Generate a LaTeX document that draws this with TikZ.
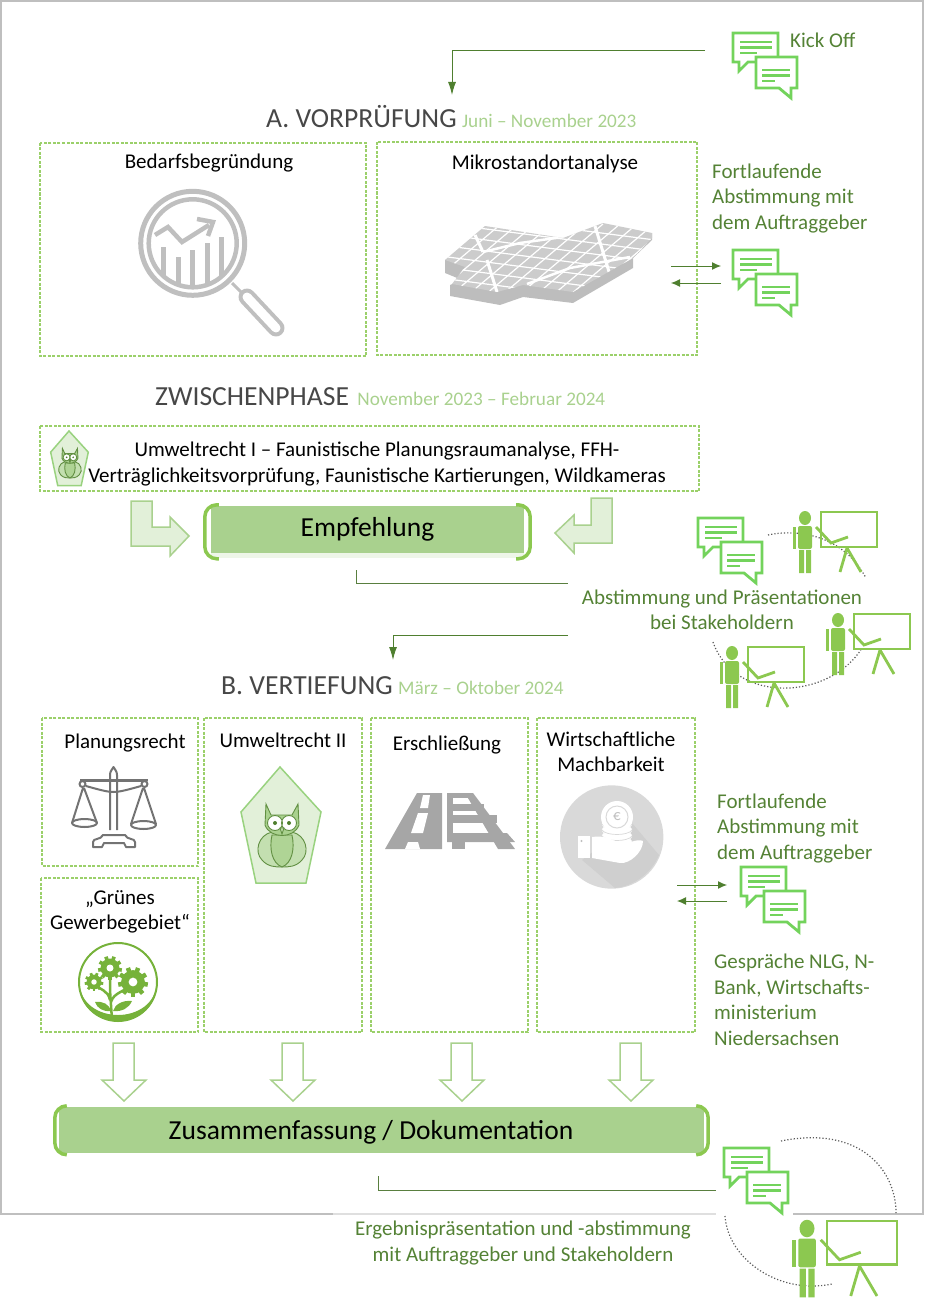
\documentclass[tikz,border=0pt]{standalone}
\usepackage{fontspec}
\setmainfont{Carlito}
\usetikzlibrary{positioning, arrows.meta}

\definecolor{framegray}{HTML}{BFBFBF}
\definecolor{iconlight}{HTML}{73D35C}
\definecolor{personfill}{HTML}{8CC850}
\definecolor{barfill}{HTML}{A9D18E}
\definecolor{paleleaf}{HTML}{E2F0D9}
\definecolor{linkgreen}{HTML}{4F7F2F}
\definecolor{sidegreen}{HTML}{548235}
\definecolor{dashgreen}{HTML}{9BD06A}
\definecolor{icongray}{HTML}{BFBFBF}
\definecolor{flowergreen}{HTML}{76B23A}

\tikzset{
  body/.style={font=\fontsize{21}{25.5}\selectfont, align=center, inner sep=0pt},
  sidetext/.style={font=\fontsize{21}{25.5}\selectfont, align=left, inner sep=0pt, text=sidegreen},
  sidemid/.style={sidetext, align=center},
  heading/.style={font=\fontsize{27.6}{30}\selectfont, text=black!72, inner sep=0pt, anchor=base west},
  datetext/.style={font=\fontsize{19.2}{22}\selectfont, text=barfill, inner sep=0pt, anchor=base west},
  dashbox/.style={draw=dashgreen, line width=1.3pt, dash pattern=on 3pt off 1.5pt},
  greenbar/.style={fill=barfill, inner sep=0pt, font=\fontsize{27.5}{30}\selectfont},
  barend/.style={draw=personfill, line width=3.5pt, rounded corners=12pt},
  link/.style={draw=linkgreen!80!gray, line width=1pt},
  tip/.style={-{Latex[length=13pt,width=8pt]}, draw=linkgreen, line width=1pt},
  bentarrow/.style={draw=barfill, fill=paleleaf, line width=1.5pt},
  dotline/.style={draw=black!65, line width=1.2pt, dotted},
  chat/.pic={
    \begin{scope}[draw=iconlight, line width=2.8pt, fill=white]
      \draw (0,0) -- (45,0) -- (45,29) -- (15,29) -- (6,38) -- (6,29) -- (0,29) -- cycle;
      \draw (7,9) -- (39,9) (7,14.5) -- (39,14.5) (7,20) -- (24,20);
      \filldraw (23,24) -- (64,24) -- (64,55) -- (58,55) -- (58,65) -- (46,55) -- (23,55) -- cycle;
      \draw (29,37) -- (57,37) (29,42.5) -- (57,42.5) (29,48) -- (42,48);
    \end{scope}
  },
  presenter/.pic={
    \draw[personfill, line width=2.8pt] (0,0) rectangle (56,35);
    \draw[personfill, line width=2.8pt] (-5,15) -- (10,31) -- (27,25);
    \draw[personfill, line width=2.8pt] (26,36) -- (19,60) (26,36) -- (40,60);
    \fill[personfill] (-16,6) ellipse (6 and 7);
    \fill[personfill, rounded corners=2pt] (-23,14) rectangle (-9,37);
    \fill[personfill] (-28,15) rectangle (-25,37);
    \fill[personfill] (-22,38) rectangle (-17,61) (-15,38) rectangle (-10,61);
  },
  owl/.pic={
    \draw[barfill!70!iconlight, fill=paleleaf, line width=1.5pt] (0,0) -- (41,45) -- (26,116) -- (-24,116) -- (-39,45) -- cycle;
    \begin{scope}[draw=linkgreen!80!barfill, line width=.9pt]
      \filldraw[fill=barfill!55!paleleaf] (-8,65) .. controls (-22,68) and (-26,85) .. (-18,93) .. controls (-12,100) and (-4,100) .. (2,100) .. controls (8,100) and (16,100) .. (22,93) .. controls (30,85) and (26,68) .. (12,65) -- cycle;
      \filldraw[fill=barfill!90!paleleaf] (-8,68) .. controls (-11,82) and (-8,96) .. (2,100) .. controls (12,96) and (15,82) .. (12,68) -- cycle;
      \filldraw[fill=barfill] (-14,37) -- (-9,48) -- (12,48) -- (18,37) -- (19,58) .. controls (14,72) and (-10,72) .. (-15,58) -- cycle;
      \filldraw[fill=white] (-5,56) circle (7.5) (9,56) circle (7.5);
      \fill[linkgreen] (-5,56) circle (2) (9,56) circle (2);
      \filldraw[fill=barfill!60!paleleaf] (0,61) -- (4,61) -- (2,67) -- cycle;
    \end{scope}
  },
  downarrow/.pic={
    \draw[bentarrow, fill=white] (-11,0) -- (10,0) -- (10,37) -- (22,37) -- (0,58) -- (-22,37) -- (-11,37) -- cycle;
  },
  gear/.pic={
    \foreach \t in {0,40,...,320}
      \fill[rotate=\t] (-1.8,0) rectangle (1.8,12);
    \fill (0,0) circle (9.5);
    \fill[white] (0,0) circle (3.5);
  },
}

\begin{document}
\begin{tikzpicture}[x=1pt, y=-1pt]
\useasboundingbox (0,0) rectangle (924,1300);

% frame
\draw[framegray, line width=2pt] (333,1214) -- (1,1214) -- (1,1) -- (923,1) -- (923,1214) -- (793,1214);
\draw[framegray!50, line width=1.5pt] (333,1214) -- (716,1214);

% titles
\node[heading] (vorpruefung) at (266,128) {A. VORPRÜFUNG};
\node[datetext, right=5pt of vorpruefung.base east, anchor=base west] (vorpruefungdate) {Juni -- November 2023};
\node[heading] (zwischenphase) at (155,405) {ZWISCHENPHASE};
\node[datetext, right=8pt of zwischenphase.base east, anchor=base west] (zwischendate) {November 2023 -- Februar 2024};
\node[heading] (vertiefung) at (221,694) {B. VERTIEFUNG};
\node[datetext, right=5pt of vertiefung.base east, anchor=base west] (vertiefungdate) {März -- Oktober 2024};

% boxes
\draw[dashbox] (40,143) rectangle (366,356);
\draw[dashbox] (377,142) rectangle (697,355);
\draw[dashbox] (40,426) rectangle (699,491);
\draw[dashbox] (42,718) rectangle (198,866);
\draw[dashbox] (41,878) rectangle (198,1032);
\draw[dashbox] (204,718) rectangle (362,1032);
\draw[dashbox] (371,718) rectangle (528,1032);
\draw[dashbox] (537,718) rectangle (695,1032);

\node[body] (bedarf) at (209,163) {Bedarfsbegründung};
\node[body] (mikro) at (545,164) {Mikrostandortanalyse};
\node[body] (umwelt1) at (377,464) {Umweltrecht I -- Faunistische Planungsraumanalyse, FFH-\\Verträglichkeitsvorprüfung, Faunistische Kartierungen, Wildkameras};
\node[body] (planung) at (125,743) {Planungsrecht};
\node[body] (umwelt2) at (283,740) {Umweltrecht II};
\node[body] (erschl) at (447,745) {Erschließung};
\node[body] (wirtschaft) at (611,752) {Wirtschaftliche\\Machbarkeit};
\node[body] (gruenes) at (120,912) {„Grünes\\Gewerbegebiet“};

% magnifier
\begin{scope}[icongray]
  \draw[line width=5pt] (192.7,243.3) circle (52);
  \draw[line width=4.5pt] (192.7,243.3) circle (44);
  \begin{scope}
    \clip (192.7,243.3) circle (44);
    \foreach \bx/\by in {163/247, 178/257, 192/250, 207/243, 221/237}
      \draw[line width=5pt] (\bx,\by) -- (\bx,295);
  \end{scope}
  \draw[line width=4.5pt] (155,235) -- (168,227) -- (182,242) -- (209,225);
  \draw[line width=4.5pt] (197,219) -- (213,222) -- (208,236);
  \draw[line width=3pt] (232,283) -- (243,294);
  \draw[line width=17pt, line cap=round] (247,297) -- (276,328);
  \draw[white, line width=9pt, line cap=round] (247,297) -- (276,328);
\end{scope}

% map
\fill[black!26] (445,260) -- (445,273) -- (462,280) -- (450,285) -- (450,296) -- (500,305) -- (523,297) -- (573,303) -- (633,268) -- (633,258) -- (652,240) -- (652,233) -- cycle;
\begin{scope}
  \clip (445,260) -- (485,226) -- (563,238) -- (603,223) -- (652,233) -- (652,238) -- (633,258) -- (573,292) -- (523,285) -- (497,292) -- (452,284) -- (465,267) -- cycle;
  \fill[black!20] (440,220) rectangle (655,300);
  \foreach \k in {0,...,8}
    \draw[white, line width=1.2pt] (440,212+\k*11) -- (655,240+\k*11);
  \foreach \k in {-2,...,12}
    \draw[white, line width=1.2pt] (445+\k*17,300) -- (535+\k*17,224);
  \draw[white, line width=3pt] (475,235) -- (483,252);
  \draw[white, line width=3pt] (487,260) -- (497,292);
  \draw[white, line width=3pt] (595,226) -- (610,275);
  \draw[white, line width=2.5pt] (483,252) -- (520,243) -- (563,237);
  \draw[white, line width=2.5pt] (527,284) -- (570,268) -- (630,257);
\end{scope}

% arrows into the recommendation
\draw[bentarrow] (131,501) -- (152,501) -- (152,527) -- (170,527) -- (170,517) -- (189,536) -- (170,556) -- (170,546) -- (131,546) -- cycle;
\draw[bentarrow] (612,498) -- (591,498) -- (591,525) -- (574,525) -- (574,515) -- (555,533) -- (574,553) -- (574,543) -- (612,543) -- cycle;

% bars
\fill[paleleaf!60] (211,553) rectangle (524,558);
\node[greenbar, minimum width=313pt, minimum height=47pt] (empfehlung) at (367.5,529.5) {\raisebox{-2pt}{Empfehlung}};
\draw[barend] ([xshift=8pt,yshift=1pt]empfehlung.north west) -- ++(-14,0) -- ++(0,54) -- ++(14,0);
\draw[barend] ([xshift=-8pt,yshift=1pt]empfehlung.north east) -- ++(14,0) -- ++(0,54) -- ++(-14,0);
\node[greenbar, minimum width=645pt, minimum height=46pt] (zusammen) at (381.5,1130) {};
\node[font=\fontsize{27.5}{30}\selectfont, inner sep=0pt] (zusammentext) at (371,1132) {Zusammenfassung / Dokumentation};
\draw[barend] ([xshift=8pt,yshift=1pt]zusammen.north west) -- ++(-12,0) -- ++(0,49) -- ++(12,0);
\draw[barend] ([xshift=-8pt,yshift=1pt]zusammen.north east) -- ++(12,0) -- ++(0,49) -- ++(-12,0);

% owls
\pic at (69,431) [scale=.47] {owl};
\pic at (280,767) {owl};

% scales
\begin{scope}[black!55, line width=2pt, line join=round]
  \draw (110,830) -- (110,775) .. controls (110,771) and (112,770) .. (113.5,767) .. controls (115,770) and (117,771) .. (117,775) -- (117,830);
  \draw (85,781) -- (143,781);
  \draw (80,780) -- (148,780);
  \draw (86,786) .. controls (100,790) and (108,792) .. (113.5,792) .. controls (119,792) and (127,790) .. (141,786);
  \draw[fill=white] (82.5,784) circle (3) (144.5,784) circle (3);
  \draw (83,788) -- (72,823) (84,788) -- (97,823);
  \draw (143,788) -- (131,824) (144,788) -- (156,824);
  \draw (84.5,823) ellipse (12.5 and 4);
  \draw (143.5,825) ellipse (12.5 and 4);
  \draw (103,835) -- (125,835) .. controls (127,840) and (135,838) .. (135,842) -- (135,847) -- (126,847) -- (124,843) -- (104,843) -- (102,847) -- (93,847) -- (93,842) .. controls (93,838) and (101,840) .. (103,835) -- cycle;
\end{scope}

% road and rail
\begin{scope}[black!35]
  \fill (417,793) -- (442,793) -- (442,849) -- (385,849) -- cycle;
  \fill[white] (423,795) -- (430,795) -- (428,808) -- (420,808) -- cycle;
  \fill[white] (418,813) -- (428,813) -- (423,833) -- (411,833) -- cycle;
  \fill[white] (405,849) -- (408,842) -- (418,842) -- (420,849) -- cycle;
  \fill (447,793) rectangle (473,798);
  \fill (447,804) rectangle (484,811);
  \fill (447,815) rectangle (497,823);
  \fill (447,833) -- (507,833) -- (515,842) -- (447,842) -- cycle;
  \fill (447,793) rectangle (453,842);
  \fill (452,842) rectangle (465,849);
  \fill (465,793) -- (473,793) -- (515,849) -- (498,849) -- cycle;
\end{scope}

% coins in hand
\fill[black!15] (611.7,837) circle (51.7);
\fill[black!19] (582,860) -- (632,823) -- (659,855) .. controls (652,872) and (635,886) .. (615,888) -- cycle;
\foreach \cy in {848,842,836,830,824}
  \draw[white, fill=white] (617,\cy) ellipse (15 and 5.5);
\foreach \cy in {848,842,836,830,824}
  \draw[black!15, line width=.7pt] (602,\cy) .. controls (606,\cy+6) and (628,\cy+6) .. (632,\cy);
\fill[white] (617,817) circle (16);
\draw[black!15, line width=1pt] (617,817) circle (11);
\node[inner sep=0pt, font=\fontsize{15}{15}\selectfont, text=black!25] (euro) at (617,817) {€};
\fill[white] (578,836) rectangle (590,858);
\fill[black!25] (581.5,841) circle (1.2);
\fill[white] (592,837) .. controls (605,835) and (612,840) .. (620,843) .. controls (628,845) and (636,838) .. (643,841) .. controls (643,852) and (630,864) .. (620,863) -- (592,858) -- cycle;

% flower
\draw[flowergreen, line width=2pt] (118,982) circle (39);
\fill[flowergreen] (79,982) .. controls (79,1034) and (157,1034) .. (157,982) .. controls (155,1026) and (81,1026) .. (79,982);
\begin{scope}[flowergreen]
  \draw[line width=2.5pt] (112,1020) -- (110,990) -- (110,975) (110,1000) .. controls (108,990) and (100,990) .. (96,985) (111,1002) .. controls (114,992) and (125,992) .. (130,985);
  \fill (111,1011) .. controls (103,1012) and (97,1008) .. (95,1002) .. controls (103,1001) and (109,1004) .. (111,1011);
  \fill (113,1011) .. controls (122,1012) and (129,1008) .. (132,1001) .. controls (123,1000) and (115,1004) .. (113,1011);
  \pic at (110,968) {gear};
  \pic at (133,982) [scale=1.25] {gear};
  \pic at (94,982) [scale=.78] {gear};
\end{scope}

% down arrows
\foreach \ax in {124,293,462,631}
  \pic at (\ax,1043) {downarrow};

% chats and presenters
\draw[dotline] (768,535) .. controls (790,530) and (840,530) .. (866,578);
\draw[dotline] (713,642) .. controls (735,705) and (830,700) .. (862,648);
\draw[dotline] (781,1141) .. controls (860,1125) and (896,1170) .. (896,1213);
\draw[dotline] (725,1216) .. controls (728,1260) and (780,1295) .. (832,1284);
\pic at (733,33) {chat};
\pic at (733,250) {chat};
\pic at (698,518) {chat};
\pic at (741,867) {chat};
\pic at (724,1148) {chat};
\pic at (821,512) {presenter};
\pic at (854,614) {presenter};
\pic at (748,647) {presenter};
\pic at (827,1221) [scale=1.25] {presenter};

% side texts
\node[sidetext, anchor=base west] (kickoff) at (790,48) {Kick Off};
\node[sidetext, anchor=north west] (abstimmung1) at (712,163.5) {Fortlaufende\\Abstimmung mit\\dem Auftraggeber};
\node[sidemid] (praesent) at (722,610) {Abstimmung und Präsentationen\\bei Stakeholdern};
\node[sidetext, anchor=north west] (abstimmung2) at (717,793.5) {Fortlaufende\\Abstimmung mit\\dem Auftraggeber};
\node[sidetext, anchor=north west] (gespraeche) at (714,954) {Gespräche NLG, N-\\Bank, Wirtschafts-\\ministerium\\Niedersachsen};
\node[sidemid] (ergebnis) at (523,1243) {Ergebnispräsentation und -abstimmung\\mit Auftraggeber und Stakeholdern};

% connectors
\coordinate (kickend) at (705,51);
\coordinate (vorpruefpoint) at (452,95);
\coordinate (empfstart) at (356,570);
\coordinate (stakein) at (568,583);
\coordinate (stakeout) at (568,635);
\coordinate (vertiefpoint) at (393,660);
\coordinate (zusstart) at (378,1176);
\coordinate (ergebin) at (716,1190);
\coordinate (dialogA1) at (671,266);
\coordinate (dialogA2) at (721,266);
\coordinate (dialogA3) at (721,283);
\coordinate (dialogA4) at (671,283);
\coordinate (dialogB1) at (677,885);
\coordinate (dialogB2) at (727,885);
\coordinate (dialogB3) at (727,901);
\coordinate (dialogB4) at (677,901);

\draw[tip] (kickend) -| (vorpruefpoint);
\draw[link] (empfstart) |- (stakein);
\draw[tip] (stakeout) -| (vertiefpoint);
\draw[link] (zusstart) |- (ergebin);
\draw[tip, -{Latex[length=9pt,width=8pt]}] (dialogA1) -- (dialogA2);
\draw[tip, -{Latex[length=9pt,width=8pt]}] (dialogA3) -- (dialogA4);
\draw[tip, -{Latex[length=9pt,width=8pt]}] (dialogB1) -- (dialogB2);
\draw[tip, -{Latex[length=9pt,width=8pt]}] (dialogB3) -- (dialogB4);
\end{tikzpicture}
\end{document}
